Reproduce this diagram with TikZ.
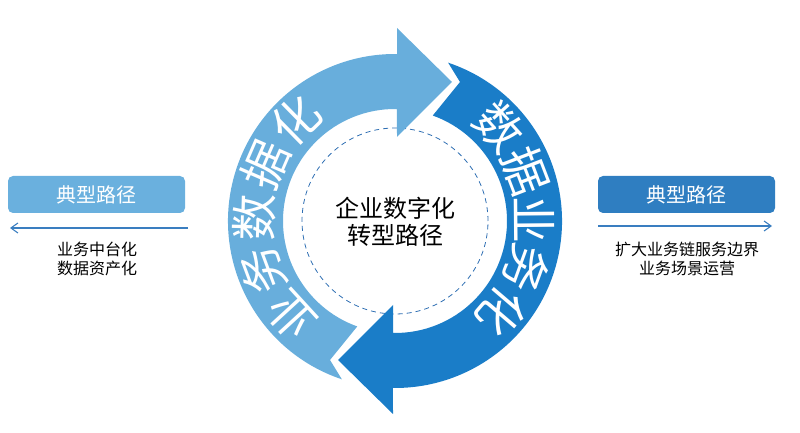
\documentclass[tikz,border=0pt]{standalone}
\usepackage{fontspec}
\setmainfont{Noto Sans CJK SC}
\usetikzlibrary{arrows.meta}
\definecolor{lightarr}{HTML}{68AEDC}
\definecolor{darkarr}{HTML}{1A7DC8}
\definecolor{leftbox}{HTML}{6AB0DE}
\definecolor{rightbox}{HTML}{2F7EC1}
\definecolor{linecol}{HTML}{3A7EC0}
\definecolor{dashcol}{HTML}{2F6FB3}
\tikzset{
  ringchar/.style={text=white, font=\fontsize{47}{47}\selectfont, inner sep=0pt},
  pathbox/.style={fill=#1, rounded corners=5pt, minimum width=177pt, minimum height=37pt,
    text=white, font=\fontsize{20}{20}\selectfont},
  sidetext/.style={font=\fontsize{16}{16}\selectfont, inner sep=0pt},
  sidearrow/.style={draw=linecol, line width=1.1pt, -{Straight Barb[length=7pt,width=10pt,line width=1.1pt]}}
}
\begin{document}
\begin{tikzpicture}[x=1pt, y=1pt]
  \useasboundingbox (0,0) rectangle (800,433);
  % cycle in the middle
  \begin{scope}[shift={(395,212)}]
    \draw[dashcol, dashed, line width=0.8pt, dash pattern=on 5pt off 4pt] (0,0) circle[radius=93pt];
    \foreach \rot/\col in {0/darkarr, 180/lightarr}
      \fill[\col, rotate=\rot] (71.45:167) arc[start angle=71.45, end angle=-90.7, radius=167pt]
        -- (-2,-193) -- (-57,-139) -- (-2,-84) -- (-91:112)
        arc[start angle=-91, end angle=70.3, radius=112pt] -- (65,139) -- cycle;
    % arc labels
    \foreach \ch/\ang [count=\i] in {业/222.5, 务/200.5, 数/178.5, 据/156.5, 化/134.5}
      \node[ringchar, rotate=\ang-90] (lc\i) at (\ang:141) {\ch};
    \foreach \ch/\ang [count=\i] in {数/42, 据/21, 业/0.5, 务/-20, 化/-40.5}
      \node[ringchar, rotate=\ang-90] (rc\i) at (\ang:140) {\ch};
    \node[align=center, font=\fontsize{24}{27}\selectfont] (core) at (0,-0.5) {企业数字化\\转型路径};
  \end{scope}
  % left side
  \node[pathbox=leftbox] (lbox) at (96.5,238.5) {典型路径};
  \coordinate (lfrom) at (188,205);
  \coordinate (lto) at (10,205);
  \draw[sidearrow] (lfrom) -- (lto);
  \node[sidetext] (ltxt1) at (97,184) {业务中台化};
  \node[sidetext] (ltxt2) at (97,165) {数据资产化};
  % right side
  \node[pathbox=rightbox] (rbox) at (686.5,238.5) {典型路径};
  \coordinate (rfrom) at (598,207);
  \coordinate (rto) at (772,207);
  \draw[sidearrow] (rfrom) -- (rto);
  \node[sidetext] (rtxt1) at (687,184) {扩大业务链服务边界};
  \node[sidetext] (rtxt2) at (687,165) {业务场景运营};
\end{tikzpicture}
\end{document}
